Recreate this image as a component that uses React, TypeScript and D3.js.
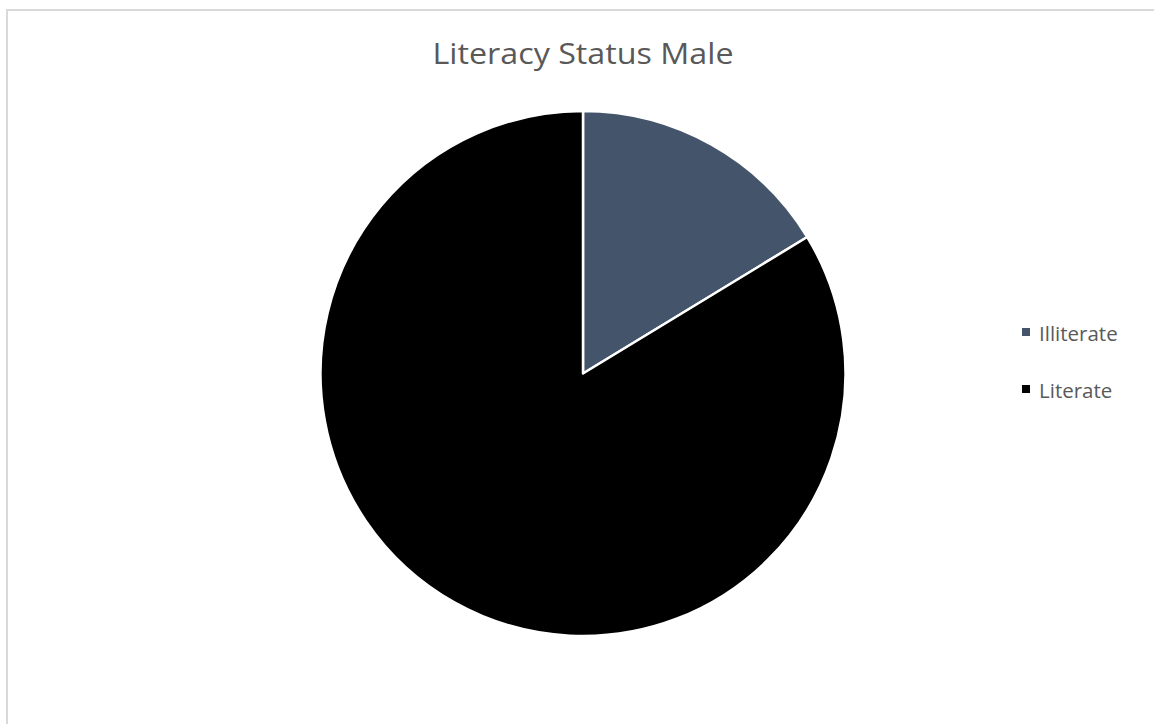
import React from "react";
import * as d3 from "d3";

const categories = ["Illiterate", "Literate"];
const values = [16.3, 83.7];
const colors = ["#44546A", "#000000"];
const title = "Literacy Status Male";

export default function App() {
  const W = 1154;
  const H = 724;
  const cx = 583;
  const cy = 373.5;
  const r = 262.5;
  const pie = d3.pie<number>().sort(null).value((d) => d);
  const arcs = pie(values);
  const arc = d3.arc<d3.PieArcDatum<number>>().innerRadius(0).outerRadius(r);
  const legendY = d3.scalePoint<string>().domain(categories).range([333, 390]);
  return (
    <svg
      width={W}
      height={H}
      style={{ position: "absolute", left: 0, top: 0, display: "block" }}
      fontFamily="'Open Sans', sans-serif"
    >
      <rect x={0} y={0} width={W} height={H} fill="#ffffff" />
      <rect x={7} y={10} width={W + 20} height={H + 20} fill="#ffffff" stroke="#d9d9d9" strokeWidth={2} />
      <text x={583} y={64} textAnchor="middle" fontSize={30} fill="#595959" textLength={301} lengthAdjust="spacingAndGlyphs">
        {title}
      </text>
      <g transform={`translate(${cx},${cy})`}>
        {arcs.map((a, i) => (
          <path key={i} d={arc(a) || ""} fill={colors[i]} stroke="#ffffff" strokeWidth={2.5} strokeLinejoin="round" />
        ))}
      </g>
      {categories.map((c, i) => (
        <g key={c} transform={`translate(0,${legendY(c)})`}>
          <rect x={1022} y={-5} width={8} height={8} fill={colors[i]} />
          <text x={1039} y={0} dominantBaseline="central" fontSize={20.5} fill="#595959">
            {c}
          </text>
        </g>
      ))}
    </svg>
  );
}
